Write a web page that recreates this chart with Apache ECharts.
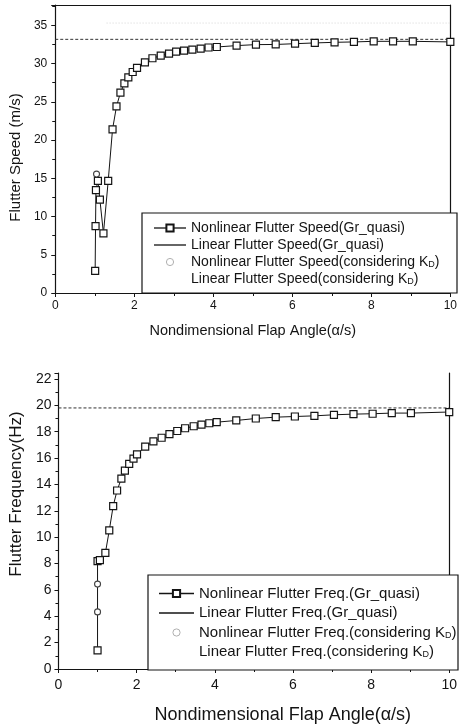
<!DOCTYPE html>
<html>
<head>
<meta charset="utf-8"/>
<title>Flutter speed / frequency</title>
<script src="https://cdn.jsdelivr.net/npm/echarts@6/dist/echarts.min.js"></script>
<style>
    html, body { margin: 0; padding: 0; background: #fff; }
    #main { width: 460px; height: 725px; }
</style>
</head>
<body>
<div id="main"></div>
<script>
// ---- top chart: flutter speed ----
var speedX = [1.01, 1.02, 1.03, 1.08, 1.13, 1.22, 1.34, 1.45, 1.55, 1.65, 1.75, 1.85, 1.96, 2.07,
    2.27, 2.46, 2.67, 2.88, 3.06, 3.26, 3.47, 3.68, 3.88, 4.09, 4.59, 5.08, 5.58, 6.07, 6.57,
    7.07, 7.56, 8.06, 8.55, 9.05, 10.0];
var speedY = [2.9, 8.75, 13.45, 14.65, 12.2, 7.8, 14.65, 21.4, 24.4, 26.2, 27.4, 28.2, 28.9, 29.43,
    30.17, 30.7, 31.04, 31.3, 31.57, 31.7, 31.83, 31.96, 32.1, 32.17, 32.35, 32.48, 32.5, 32.6, 32.7,
    32.78, 32.83, 32.91, 32.91, 32.91, 32.83];
var speedKX = [1.045];
var speedKY = [15.55];
var speedLinX = [0, 10];
var speedLinY = [33.17, 33.17];
var speedLinKX = [1.3, 10];
var speedLinKY = [35.3, 35.3];
var speedNames = ['Nonlinear Flutter Speed(Gr_quasi)', 'Linear Flutter Speed(Gr_quasi)',
    'Nonlinear Flutter Speed(considering KD)', 'Linear Flutter Speed(considering KD)'];

// ---- bottom chart: flutter frequency ----
var freqX = [1.0, 1.0, 1.06, 1.2, 1.3, 1.4, 1.5, 1.61, 1.7, 1.81, 1.92, 2.01, 2.22, 2.43, 2.64, 2.84,
    3.04, 3.24, 3.46, 3.66, 3.86, 4.05, 4.55, 5.05, 5.56, 6.05, 6.55, 7.05, 7.55, 8.04, 8.53, 9.02, 10.0];
var freqY = [1.42, 8.18, 8.26, 8.8, 10.51, 12.36, 13.54, 14.44, 15.05, 15.56, 15.95, 16.28, 16.87, 17.26,
    17.54, 17.82, 18.05, 18.26, 18.41, 18.54, 18.64, 18.72, 18.85, 19.0, 19.1, 19.15, 19.2, 19.28, 19.33,
    19.36, 19.41, 19.41, 19.49];
var freqKX = [1.0, 1.0];
var freqKY = [6.44, 4.33];
var freqLinX = [0, 10];
var freqLinY = [19.8, 19.8];
var freqNames = ['Nonlinear Flutter Freq.(Gr_quasi)', 'Linear Flutter Freq.(Gr_quasi)',
    'Nonlinear Flutter Freq.(considering KD)', 'Linear Flutter Freq.(considering KD)'];

function pairs(xs, ys) {
    return xs.map(function (x, i) { return [x, ys[i]]; });
}

var FONT = '"Liberation Sans", Arial, sans-serif';
var INK = '#141414';

function axisX(grid, fontSize, margin) {
    return {
        type: 'value', gridIndex: grid, min: 0, max: 10, interval: 2,
        axisLine: {show: true, onZero: false, lineStyle: {color: INK, width: 1.2}},
        axisTick: {show: true, length: 4, lineStyle: {color: INK}},
        minorTick: {show: true, splitNumber: 2, length: 3, lineStyle: {color: INK}},
        splitLine: {show: false},
        axisLabel: {color: INK, fontFamily: FONT, fontSize: fontSize, margin: margin}
    };
}

function axisY(grid, max, step, fontSize, margin) {
    return {
        type: 'value', gridIndex: grid, min: 0, max: max, interval: step,
        axisLine: {show: true, onZero: false, lineStyle: {color: INK, width: 1.2}},
        axisTick: {show: true, length: 4, lineStyle: {color: INK}},
        minorTick: {show: true, splitNumber: 2, length: 3, lineStyle: {color: INK}},
        splitLine: {show: false},
        axisLabel: {
            color: INK, fontFamily: FONT, fontSize: fontSize, margin: margin,
            formatter: function (v) { return Math.abs(v / step - Math.round(v / step)) < 1e-6 ? v : ''; }
        }
    };
}

function frame(grid, pos, max) {
    return {
        type: 'value', gridIndex: grid, position: pos, min: 0, max: max,
        axisLine: {show: true, onZero: false, lineStyle: {color: INK, width: 1.2}},
        axisTick: {show: false}, axisLabel: {show: false}, splitLine: {show: false}
    };
}

function squareSeries(name, xi, yi, data) {
    return {
        name: name, type: 'line', xAxisIndex: xi, yAxisIndex: yi, data: data,
        symbol: 'rect', symbolSize: 7, showAllSymbol: true,
        lineStyle: {color: INK, width: 1}, itemStyle: {color: '#fff', borderColor: INK, borderWidth: 1.2},
        z: 3
    };
}

function dashSeries(name, xi, yi, data, color, type) {
    return {
        name: name, type: 'line', xAxisIndex: xi, yAxisIndex: yi, data: data, symbol: 'none',
        lineStyle: {color: color, width: 1, type: type}, itemStyle: {color: color}, z: 2
    };
}

function circleSeries(name, xi, yi, data) {
    return {
        name: name, type: 'line', xAxisIndex: xi, yAxisIndex: yi, data: data,
        symbol: 'circle', symbolSize: 6, lineStyle: {opacity: 0},
        itemStyle: {color: '#fff', borderColor: '#444', borderWidth: 1.1}, z: 4
    };
}

function legendData(names) {
    return [
        {name: names[0], lineStyle: {width: 1.3, color: INK}},
        {name: names[1], lineStyle: {type: 'solid', color: INK, width: 1.3, opacity: 1}, itemStyle: {opacity: 0}},
        {name: names[2], lineStyle: {opacity: 0}, itemStyle: {color: '#fff', borderColor: '#b0b0b0', borderWidth: 1}},
        {name: names[3], icon: 'rect', itemStyle: {opacity: 0}}
    ];
}

// K_D with a subscript D
function legendLabel(name) {
    return name.replace('KD)', 'K{sub|D})');
}

function legendText(size) {
    var sub = Math.round(size * 0.62);
    return {
        color: INK, fontFamily: FONT, fontSize: size, lineHeight: size,
        rich: {sub: {color: INK, fontFamily: FONT, fontSize: sub, verticalAlign: 'bottom', lineHeight: sub}}
    };
}

var chart = echarts.init(document.getElementById('main'), null, {renderer: 'canvas'});

var topY = axisY(0, 37.66, 5, 12, 8);
topY.name = 'Flutter Speed (m/s)';
topY.nameLocation = 'middle';
topY.nameGap = 30;
topY.nameTextStyle = {color: INK, fontFamily: FONT, fontSize: 15, padding: [0, 17, 0, 0]};

var topX = axisX(0, 12, 7);
topX.name = 'Nondimensional Flap Angle(\u03B1/s)';
topX.nameLocation = 'middle';
topX.nameGap = 30;
topX.nameTextStyle = {color: INK, fontFamily: FONT, fontSize: 14.5};

var botY = axisY(1, 22.45, 2, 14, 7);
botY.name = 'Flutter Frequency(Hz)';
botY.nameLocation = 'middle';
botY.nameGap = 30;
botY.nameTextStyle = {color: INK, fontFamily: FONT, fontSize: 17, padding: [0, 0, 0, 54]};

var botX = axisX(1, 14, 9);
botX.name = 'Nondimensional Flap Angle(\u03B1/s)';
botX.nameLocation = 'middle';
botX.nameGap = 37;
botX.nameTextStyle = {color: INK, fontFamily: FONT, fontSize: 18, padding: [0, 0, 0, 58]};

var option = {
    animation: false,
    backgroundColor: '#fff',
    grid: [
        {left: 54, top: 5, width: 403, height: 288},
        {left: 49, top: 373, width: 409, height: 297}
    ],
    xAxis: [topX, frame(0, 'top', 10), botX],
    yAxis: [topY, frame(0, 'right', 37.66), botY, frame(1, 'right', 22.45)],
    legend: [
        {
            orient: 'vertical', left: 153, top: 221, itemWidth: 32, itemHeight: 9, itemGap: 3, padding: 0,
            data: legendData(speedNames), selectedMode: false, z: 6,
            formatter: legendLabel, textStyle: legendText(14)
        },
        {
            orient: 'vertical', left: 158, top: 586, itemWidth: 35, itemHeight: 9, itemGap: 4.5, padding: 0,
            data: legendData(freqNames), selectedMode: false, z: 6,
            formatter: legendLabel, textStyle: legendText(15)
        }
    ],
    graphic: [
        {type: 'rect', shape: {x: 142, y: 213, width: 315, height: 80}, z: 5,
            style: {fill: '#fff', stroke: INK, lineWidth: 1.2}},
        {type: 'rect', shape: {x: 148, y: 575, width: 310, height: 95}, z: 5,
            style: {fill: '#fff', stroke: INK, lineWidth: 1.2}}
    ],
    series: [
        squareSeries(speedNames[0], 0, 0, pairs(speedX, speedY)),
        dashSeries(speedNames[1], 0, 0, pairs(speedLinX, speedLinY), '#333', [3, 2]),
        circleSeries(speedNames[2], 0, 0, pairs(speedKX, speedKY)),
        dashSeries(speedNames[3], 0, 0, pairs(speedLinKX, speedLinKY), '#d4d4d4', [1, 2]),

        squareSeries(freqNames[0], 2, 2, pairs(freqX, freqY)),
        dashSeries(freqNames[1], 2, 2, pairs(freqLinX, freqLinY), '#333', [3, 2]),
        circleSeries(freqNames[2], 2, 2, pairs(freqKX, freqKY)),
        dashSeries(freqNames[3], 2, 2, [], '#d4d4d4', [1, 2])
    ]
};
chart.setOption(option);
</script>
</body>
</html>
